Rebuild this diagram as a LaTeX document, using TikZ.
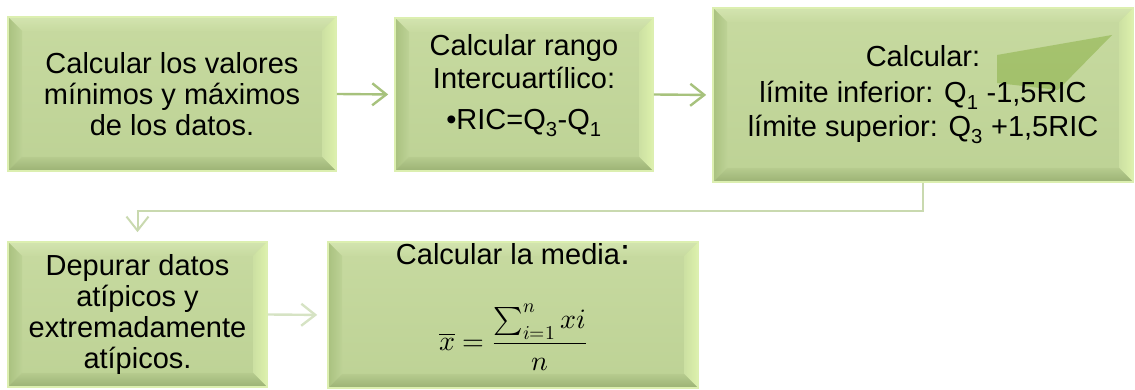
\documentclass[tikz,border=0pt]{standalone}
\usepackage{fontspec}
\usepackage{unicode-math}
\setmainfont{Liberation Sans}
\setmathfont{Latin Modern Math}
\usetikzlibrary{positioning,arrows.meta,calc}

\definecolor{fillhi}{HTML}{C7DAA0}
\definecolor{fillmid}{HTML}{BDD295}
\definecolor{boxedge}{HTML}{DCEFB0}
\definecolor{bevtop}{HTML}{D3E4AF}
\definecolor{bevleftout}{HTML}{A9C17F}
\definecolor{bevleftin}{HTML}{BDD296}
\definecolor{bevrightin}{HTML}{CCE0A2}
\definecolor{bevrightout}{HTML}{DDF1AC}
\definecolor{bevbotin}{HTML}{B6CB8E}
\definecolor{bevbotout}{HTML}{9BB274}
\definecolor{arrowgreen}{HTML}{A7C27D}
\definecolor{linkpale}{HTML}{C9D9AF}
\definecolor{arrowpale}{HTML}{D6E3C4}
\definecolor{glare}{HTML}{D6E6B2}

\begin{document}
\begin{tikzpicture}[x=1pt, y=1pt,
      font=\fontsize{29}{31}\selectfont,
      box/.style={draw=boxedge, line width=1.6pt, align=center, inner sep=0pt,
        top color=fillhi, bottom color=fillmid,
        path picture={
          \coordinate (bb-sw) at (path picture bounding box.south west);
          \coordinate (bb-ne) at (path picture bounding box.north east);
          \coordinate (bb-nw) at (path picture bounding box.north west);
          \coordinate (bb-se) at (path picture bounding box.south east);
          \shade[top color=bevtop, bottom color=fillhi] (bb-nw) -- (bb-ne) -- ([shift={(-14pt,-14pt)}]bb-ne) -- ([shift={(14pt,-14pt)}]bb-nw) -- cycle;
          \shade[left color=bevleftout, right color=bevleftin] (bb-nw) -- ([shift={(14pt,-14pt)}]bb-nw) -- ([shift={(14pt,14pt)}]bb-sw) -- (bb-sw) -- cycle;
          \shade[left color=bevrightin, right color=bevrightout] (bb-ne) -- (bb-se) -- ([shift={(-14pt,14pt)}]bb-se) -- ([shift={(-14pt,-14pt)}]bb-ne) -- cycle;
          \shade[top color=bevbotin, bottom color=bevbotout] (bb-sw) -- ([shift={(14pt,14pt)}]bb-sw) -- ([shift={(-14pt,14pt)}]bb-se) -- (bb-se) -- cycle;
        }},
      arr/.style={line width=2.4pt, arrowgreen, -{Straight Barb[length=14pt, width=22pt, line width=2.4pt]}, shorten >=6pt},
      link/.style={line width=2pt, linkpale, -{Straight Barb[length=14pt, width=22pt, line width=2pt]}, shorten >=9pt},
      palearr/.style={arr, arrowpale, shorten >=10pt}]
    \useasboundingbox (0,0) rectangle (1135,390);
    \node[box, minimum width=328pt, minimum height=154pt] (minmax) at (172,296)
      {Calcular los valores\\mínimos y máximos\\de los datos.};
    \node[box, minimum width=258pt, minimum height=153pt] (ric) at (524,295.5)
      {\raisebox{1pt}[0pt][0pt]{\begin{tabular}{@{}c@{}}Calcular rango\\[2pt]Intercuartílico:\\[10pt]\textbullet RIC=Q\textsubscript{3}-Q\textsubscript{1}\end{tabular}}};
    \node[box, minimum width=420pt, minimum height=174pt] (lims) at (923,295)
      {Calcular:\\[5pt] límite inferior: Q\textsubscript{1} -1,5RIC\\[3pt]límite superior: Q\textsubscript{3} +1,5RIC};
    \fill[glare, blend mode=multiply] (997,335) -- (1112,355) -- (1058,300) -- (997,307) -- cycle;
    \node[box, minimum width=259pt, minimum height=145pt] (depurar) at (137.5,75.5)
      {Depurar datos\\atípicos y\\extremadamente\\atípicos.};
    \node[box, minimum width=370pt, minimum height=146pt] (media) at (513,75)
      {\raisebox{1pt}[0pt][0pt]{\begin{tabular}{@{}c@{}}Calcular la media{\fontsize{36}{36}\selectfont:}\\[30pt]
       \fontsize{28}{30}\selectfont$\displaystyle \overline{x}=\frac{\sum_{i=1}^{n} xi}{n}$\end{tabular}}};
    \draw[arr] (minmax.east) -- (ric.west);
    \draw[arr] (ric.east) -- (lims.west);
    \draw[link] (lims.south) -- ++(0,-28) -| (depurar.north);
    \draw[palearr] (depurar.east) -- (media.west);
  \end{tikzpicture}
\end{document}
